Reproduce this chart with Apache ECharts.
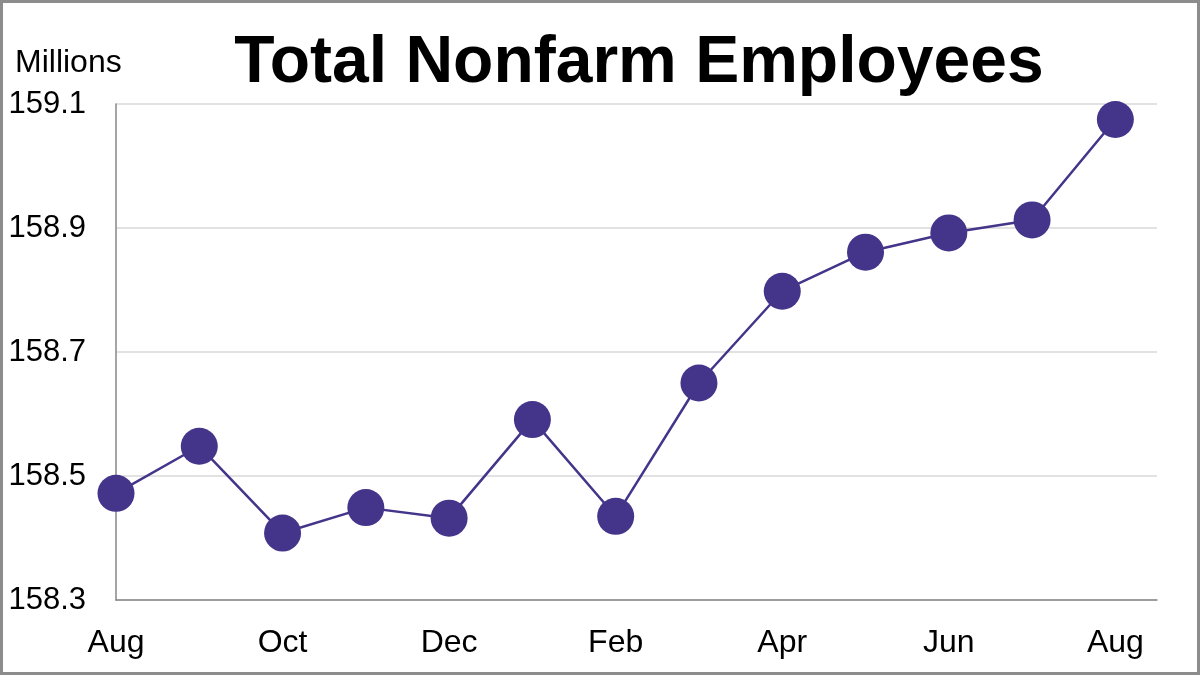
<!DOCTYPE html>
<html>
<head>
<meta charset="utf-8">
<title>Total Nonfarm Employees</title>
<script src="https://cdn.jsdelivr.net/npm/echarts@6/dist/echarts.min.js"></script>
<style>
  html, body { margin: 0; padding: 0; background: #fff; }
  #chart { position: absolute; left: 0; top: 0; width: 1200px; height: 675px; }
  #frame { position: absolute; left: 0; top: 0; width: 1200px; height: 675px;
           box-sizing: border-box; border: 3px solid #8c8c8c; pointer-events: none; }
</style>
</head>
<body>
<div id="chart"></div>
<div id="frame"></div>
<script>
// months, Aug to Aug
var months = ['Aug', 'Sep', 'Oct', 'Nov', 'Dec', 'Jan', 'Feb', 'Mar', 'Apr', 'May', 'Jun', 'Jul', 'Aug'];
// employees, millions
var employees = [158.472, 158.548, 158.408, 158.449, 158.432, 158.591, 158.435,
                 158.650, 158.798, 158.861, 158.892, 158.913, 159.075];
var yTicks = [158.3, 158.5, 158.7, 158.9, 159.1];

var font = '"Liberation Sans", Arial, sans-serif';
var purple = '#44348a';

var points = employees.map(function (v, i) { return [i, v]; });

var myChart = echarts.init(document.getElementById('chart'));

var option = {
    animation: false,
    title: [{
        text: 'Total Nonfarm Employees',
        left: 639,
        top: 31,
        textAlign: 'center',
        padding: 0,
        textStyle: { fontFamily: font, fontSize: 66, fontWeight: 'bold', color: '#000' }
    }, {
        text: 'Millions',
        left: 15,
        top: 47,
        padding: 0,
        textStyle: { fontFamily: font, fontSize: 32, fontWeight: 'normal', color: '#000' }
    }],
    grid: { left: 116, right: 43, top: 104, bottom: 75 },
    xAxis: {
        type: 'value',
        min: 0,
        max: months.length - 0.5,
        interval: 2,
        axisLine: { show: true, lineStyle: { color: '#878787', width: 1.5 } },
        axisTick: { show: false },
        splitLine: { show: false },
        axisLabel: {
            margin: 27,
            fontFamily: font, fontSize: 32, color: '#000',
            formatter: function (v) { return Number.isInteger(v) ? months[v] : ''; }
        }
    },
    yAxis: {
        type: 'value',
        min: yTicks[0],
        max: yTicks[yTicks.length - 1],
        interval: 0.2,
        axisLine: { show: true, lineStyle: { color: '#878787', width: 1.5 } },
        axisTick: { show: false },
        splitLine: { lineStyle: { color: '#d9d9d9', width: 1.5 } },
        axisLabel: {
            margin: 30,
            fontFamily: font, fontSize: 31, color: '#000',
            formatter: function (v) { return v.toFixed(1); }
        }
    },
    series: [{
        type: 'line',
        data: points,
        symbol: 'circle',
        symbolSize: 37,
        lineStyle: { color: purple, width: 2.5 },
        itemStyle: { color: purple }
    }]
};

myChart.setOption(option);
</script>
</body>
</html>
